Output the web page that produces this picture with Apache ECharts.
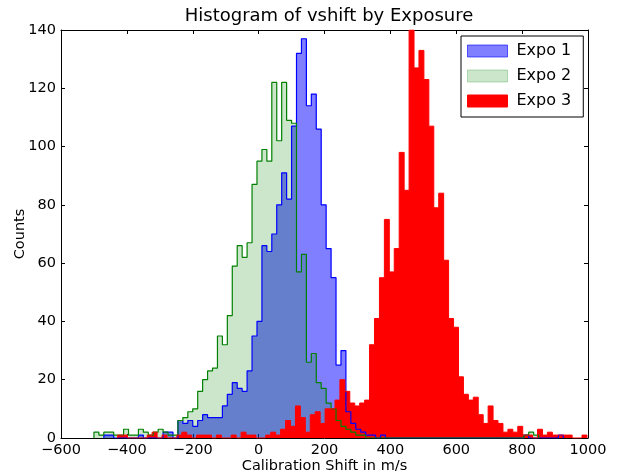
<!DOCTYPE html>
<html>
<head>
<meta charset="utf-8">
<script src="https://cdn.jsdelivr.net/npm/echarts@6/dist/echarts.min.js"></script>
<style>
  html, body { margin: 0; padding: 0; background: #fff; overflow: hidden; }
  #chart { width: 617px; height: 471px; }
</style>
</head>
<body>
<div id="chart"></div>
<script>
// histogram bins
const binWidth = 15;

const expo1Start = -470;
const expo1Counts = [
  1, 1, 0, 0, 0, 0, 0, 1, 0, 0, 0, 0, 2, 2, 0,
  6, 5, 6, 4, 6, 8, 7, 7, 7, 11, 15, 19, 17, 16, 23, 35, 40,
  66, 64, 70, 80, 91, 82, 107, 132, 137, 114, 118, 106, 80, 65, 55, 25, 30,
  9, 5, 3, 2, 1, 1,
  0, 1, 0, 0, 0, 0, 0, 0, 0, 0, 0, 0, 0, 0, 0, 0, 0, 0, 0, 0, 0, 0, 0, 0, 0, 0, 0, 0, 0, 0,
  1, 0, 0, 0, 0, 0, 0, 1
];

const expo2Start = -500;
const expo2Counts = [
  2, 1, 2, 2, 1, 1, 3, 1, 1, 3, 2, 1, 2, 3, 2, 1, 1,
  6, 7, 9, 10, 16, 20, 23, 24, 35, 32, 42, 59, 66, 62, 67, 87, 95, 99, 95,
  122, 102, 122, 109, 108, 57, 63, 26, 29, 19, 17, 12, 10, 6, 4, 3, 2, 1, 1,
  0, 0, 0, 0, 0, 0, 0, 0, 0, 0, 0, 0, 0, 0, 0, 0, 0, 0, 0, 0, 0, 0, 0, 0, 0, 0, 0, 0, 0, 0, 0, 0,
  1, 2, 1
];

const expo3Start = -428.2;
const expo3Counts = [
  1, 1, 0, 0, 0, 0, 1, 2, 0, 1, 0, 0, 1, 2, 1, 0, 1, 1, 1, 0,
  1, 0, 0, 1, 0, 2, 1, 1, 0, 0, 1, 2, 1, 3, 6, 4, 11, 7, 2, 8,
  9, 5, 10, 10, 13, 20, 16, 12, 11, 12, 13, 32, 41, 55, 75, 57, 65, 98, 85, 140,
  127, 133, 123, 107, 79, 84, 61, 41, 38, 21, 15, 13, 14, 8, 5, 11, 6, 5, 2, 3,
  2, 4, 1, 1, 0, 3, 1, 2, 1, 1, 1, 1, 0, 0, 1
];

const seriesNames = ['Expo 1', 'Expo 2', 'Expo 3'];
const xTicks = [-600, 1000, 200];
const yTicks = [0, 140, 20];

// step outline: [left edge, count] per bin, closed down to zero on both ends
function stepData(start, counts) {
  const pts = [[start, 0]];
  counts.forEach((c, i) => pts.push([start + i * binWidth, c]));
  const end = start + counts.length * binWidth;
  pts.push([end, counts[counts.length - 1]]);
  pts.push([end, 0]);
  return pts;
}

const font = 'DejaVu Sans';
const labelSize = 14.5;
const minus = (v) => String(v).replace('-', '\u2212');

const chartDom = document.getElementById('chart');
const chart = echarts.init(chartDom, null, {renderer: 'canvas', width: 617, height: 471});

const axisLine = {show: true, onZero: false, lineStyle: {color: '#000', width: 1}};
const tick = {show: true, inside: true, length: 4, lineStyle: {color: '#000'}};

const options = {
  animation: false,
  backgroundColor: '#fff',
  title: {
    text: 'Histogram of vshift by Exposure',
    left: 324,
    top: 2,
    textAlign: 'center',
    textStyle: {fontFamily: font, fontSize: 18, fontWeight: 'normal', color: '#000'},
  },
  legend: {
    orient: 'vertical',
    left: 461,
    top: 36,
    padding: [7, 12, 8, 6],
    itemWidth: 40,
    itemHeight: 12,
    itemGap: 9,
    icon: 'rect',
    borderColor: '#000',
    borderWidth: 1,
    backgroundColor: '#fff',
    textStyle: {fontFamily: font, fontSize: 16, color: '#000', padding: [0, 0, 0, 4]},
    data: [
      {name: seriesNames[0], itemStyle: {color: 'rgba(0,0,255,0.5)', borderColor: 'rgba(0,0,255,0.6)', borderWidth: 1}},
      {name: seriesNames[1], itemStyle: {color: 'rgba(0,128,0,0.2)', borderColor: 'rgba(0,128,0,0.25)', borderWidth: 1}},
      {name: seriesNames[2], itemStyle: {color: '#ff0000', borderColor: '#ff0000', borderWidth: 1}},
    ],
  },
  grid: {left: 61, right: 29, top: 30, bottom: 33, containLabel: false, outerBoundsMode: 'none'},
  xAxis: [
    {
      type: 'value',
      min: xTicks[0],
      max: xTicks[1],
      interval: xTicks[2],
      position: 'bottom',
      axisLine,
      axisTick: tick,
      splitLine: {show: false},
      axisLabel: {fontFamily: font, fontSize: labelSize, color: '#000', margin: 5, formatter: minus},
      name: 'Calibration Shift in m/s',
      nameLocation: 'middle',
      nameGap: 21,
      nameMoveOverlap: false,
      nameTextStyle: {fontFamily: font, fontSize: labelSize, color: '#000'},
    },
    {
      type: 'value',
      min: xTicks[0],
      max: xTicks[1],
      interval: xTicks[2],
      position: 'top',
      axisLine,
      axisTick: tick,
      splitLine: {show: false},
      axisLabel: {show: false},
    },
  ],
  yAxis: [
    {
      type: 'value',
      min: yTicks[0],
      max: yTicks[1],
      interval: yTicks[2],
      position: 'left',
      axisLine,
      axisTick: tick,
      splitLine: {show: false},
      axisLabel: {fontFamily: font, fontSize: labelSize, color: '#000', margin: 5},
      name: 'Counts',
      nameLocation: 'middle',
      nameGap: 33,
      nameMoveOverlap: false,
      nameTextStyle: {fontFamily: font, fontSize: labelSize, color: '#000'},
    },
    {
      type: 'value',
      min: yTicks[0],
      max: yTicks[1],
      interval: yTicks[2],
      position: 'right',
      axisLine,
      axisTick: tick,
      splitLine: {show: false},
      axisLabel: {show: false},
    },
  ],
  series: [
    {
      name: seriesNames[0],
      type: 'line',
      step: 'end',
      symbol: 'none',
      data: stepData(expo1Start, expo1Counts),
      lineStyle: {color: '#0000ff', width: 1.2},
      itemStyle: {color: 'rgba(0,0,255,0.5)'},
      areaStyle: {color: 'rgba(0,0,255,0.5)', opacity: 1},
    },
    {
      name: seriesNames[1],
      type: 'line',
      step: 'end',
      symbol: 'none',
      data: stepData(expo2Start, expo2Counts),
      lineStyle: {color: '#008000', width: 1.2},
      itemStyle: {color: 'rgba(0,128,0,0.2)'},
      areaStyle: {color: 'rgba(0,128,0,0.2)', opacity: 1},
    },
    {
      name: seriesNames[2],
      type: 'line',
      step: 'end',
      symbol: 'none',
      data: stepData(expo3Start, expo3Counts),
      lineStyle: {color: '#ff0000', width: 1},
      itemStyle: {color: '#ff0000'},
      areaStyle: {color: '#ff0000', opacity: 1},
    },
  ],
};

chart.setOption(options);
</script>
</body>
</html>
